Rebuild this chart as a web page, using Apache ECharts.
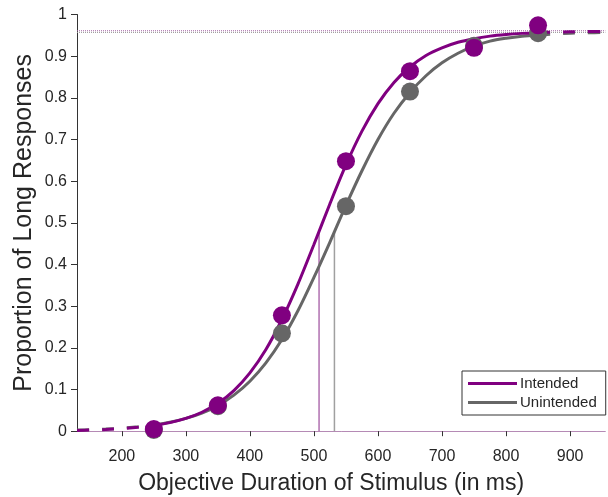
<!DOCTYPE html>
<html>
<head>
<meta charset="utf-8">
<script src="https://cdn.jsdelivr.net/npm/echarts@6/dist/echarts.min.js"></script>
<style>html,body{margin:0;padding:0;background:#fff;}#c{width:608px;height:497px;}</style>
</head>
<body>
<div id="c"></div>
<script>
// Observed data
const durations = [250, 350, 450, 550, 650, 750, 850];
const intendedProp = [0.005, 0.062, 0.278, 0.648, 0.864, 0.920, 0.974];
const unintendedProp = [0.003, 0.060, 0.235, 0.540, 0.815, 0.925, 0.955];
// Fitted curves
const fitX = [130, 150, 175, 200, 225, 250, 275, 300, 325, 350, 375, 400, 425, 450, 475, 500, 525, 550, 575, 600, 625, 650, 675, 700, 725, 750, 775, 800, 825, 850, 875, 900, 925, 955];
const intendedFit = [0.0019, 0.0027, 0.0041, 0.0061, 0.0092, 0.0137, 0.0206, 0.0307, 0.0455, 0.067, 0.0975, 0.140, 0.196, 0.268, 0.353, 0.448, 0.546, 0.639, 0.720, 0.786, 0.837, 0.874, 0.9016, 0.920, 0.9334, 0.942, 0.9481, 0.952, 0.9547, 0.9565, 0.9577, 0.9585, 0.9589, 0.9594];
const unintendedFit = [0.0026, 0.0034, 0.0050, 0.0072, 0.0104, 0.0149, 0.0214, 0.0307, 0.0435, 0.0615, 0.0865, 0.120, 0.164, 0.220, 0.289, 0.369, 0.454, 0.542, 0.625, 0.700, 0.763, 0.813, 0.853, 0.884, 0.907, 0.924, 0.936, 0.943, 0.948, 0.951, 0.953, 0.955, 0.956, 0.957];
// Thresholds (50% points of fitted curves)
const thresholds = [508, 532];
const thresholdLevels = [0.48, 0.478];
// Upper asymptotes
const upperAsymptotes = [0.961, 0.957];
const xTicks = [200, 300, 400, 500, 600, 700, 800, 900];
const xRange = [130, 955];

const PURPLE = '#800080';
const GRAY = '#666666';
const FONT = 'Liberation Sans, Arial, sans-serif';

function pairs(xs, ys) { return xs.map((x, i) => [x, ys[i]]); }
const solidLo = 250, solidHi = 850;
function part(ys, which) {
  const p = pairs(fitX, ys);
  if (which === 'solid') return p.filter(d => d[0] >= solidLo && d[0] <= solidHi);
  if (which === 'low') return p.filter(d => d[0] <= solidLo);
  return p.filter(d => d[0] >= solidHi);
}

function curveSeries(name, ys, color, which) {
  return {
    name: name, type: 'line', data: part(ys, which),
    smooth: 0.3, showSymbol: false, symbol: 'none',
    itemStyle: { color: color },
    lineStyle: { color: color, width: 3, type: which === 'solid' ? 'solid' : [12, 13] },
    silent: true, z: color === PURPLE ? 4 : 3
  };
}

const chart = echarts.init(document.getElementById('c'));
chart.setOption({
  animation: false,
  backgroundColor: '#fff',
  grid: { left: 77, right: 2.7, top: 14.5, bottom: 65.8, containLabel: false, outerBoundsMode: 'none' },
  legend: {
    data: [{ name: 'Intended', icon: 'rect' }, { name: 'Unintended', icon: 'rect' }],
    orient: 'vertical', left: 462, top: 371,
    itemWidth: 49, itemHeight: 3, itemGap: 4,
    padding: [5, 9, 5, 6],
    borderColor: '#333', borderWidth: 1,
    textStyle: { fontFamily: FONT, fontSize: 15, color: '#262626', padding: [0, 0, 0, -2] },
    selectedMode: false
  },
  xAxis: {
    type: 'value', min: xRange[0], max: xRange[1],
    name: 'Objective Duration of Stimulus (in ms)', nameLocation: 'middle', nameGap: 41,
    nameTextStyle: { fontFamily: FONT, fontSize: 23, color: '#262626', padding: [0, 20, 0, 0] },
    axisLine: { show: true, onZero: false, lineStyle: { color: '#b58ab5', width: 1 } },
    axisTick: { show: true, inside: false, length: 5, customValues: xTicks, lineStyle: { color: '#333' } },
    axisLabel: { customValues: xTicks, fontFamily: FONT, fontSize: 16, color: '#262626', margin: 17 },
    splitLine: { show: false }
  },
  yAxis: {
    type: 'value', min: 0, max: 1, interval: 0.1,
    name: 'Proportion of Long Responses', nameLocation: 'middle', nameGap: 40, nameMoveOverlap: false,
    nameTextStyle: { fontFamily: FONT, fontSize: 25, color: '#262626' },
    axisLine: { show: true, lineStyle: { color: '#333', width: 1 } },
    axisTick: { show: true, inside: false, length: 6, lineStyle: { color: '#333' } },
    axisLabel: { fontFamily: FONT, fontSize: 16, color: '#262626', margin: 10,
      formatter: v => String(Math.round(v * 10) / 10) },
    splitLine: { show: false }
  },
  series: [
    { name: 'upperU', type: 'line', data: [[xRange[0], upperAsymptotes[1]], [xRange[1], upperAsymptotes[1]]],
      symbol: 'none', lineStyle: { color: '#999', width: 1, type: [1, 1] }, silent: true, z: 1 },
    { name: 'upperI', type: 'line', data: [[xRange[0], upperAsymptotes[0]], [xRange[1], upperAsymptotes[0]]],
      symbol: 'none', lineStyle: { color: '#a060a0', width: 1, type: [1, 1] }, silent: true, z: 1 },
    { name: 'thrU', type: 'line', data: [[thresholds[1], 0], [thresholds[1], thresholdLevels[1]]],
      symbol: 'none', lineStyle: { color: '#a0a0a0', width: 1.5 }, silent: true, z: 1 },
    { name: 'thrI', type: 'line', data: [[thresholds[0], 0], [thresholds[0], thresholdLevels[0]]],
      symbol: 'none', lineStyle: { color: '#b070b0', width: 1.5 }, silent: true, z: 1 },
    curveSeries('Unintended', unintendedFit, GRAY, 'solid'),
    curveSeries('uLow', unintendedFit, GRAY, 'low'),
    curveSeries('uHigh', unintendedFit, GRAY, 'high'),
    { name: 'uPts', type: 'scatter', data: pairs(durations, unintendedProp), symbol: 'circle', symbolSize: 18,
      itemStyle: { color: GRAY, opacity: 1 }, silent: true, z: 5 },
    curveSeries('Intended', intendedFit, PURPLE, 'solid'),
    curveSeries('iLow', intendedFit, PURPLE, 'low'),
    curveSeries('iHigh', intendedFit, PURPLE, 'high'),
    { name: 'iPts', type: 'scatter', data: pairs(durations, intendedProp), symbol: 'circle', symbolSize: 18,
      itemStyle: { color: PURPLE, opacity: 1 }, silent: true, z: 6 }
  ]
});
</script>
</body>
</html>
